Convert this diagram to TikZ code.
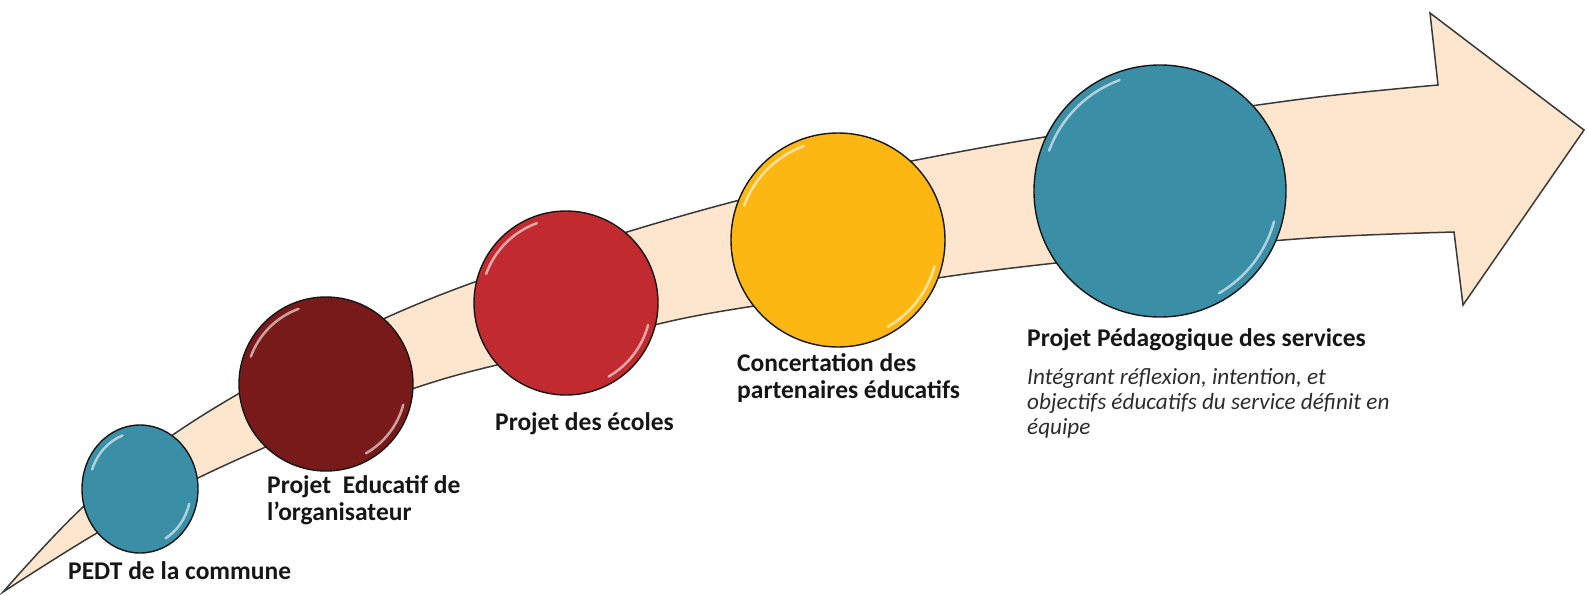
\documentclass[tikz,border=0pt]{standalone}
\usepackage{fontspec}
\setmainfont{Carlito}
\usetikzlibrary{shapes.geometric, calc}
\definecolor{tealcol}{RGB}{58,142,166}
\definecolor{winecol}{RGB}{120,26,26}
\definecolor{redcol}{RGB}{193,42,46}
\definecolor{ambercol}{RGB}{253,183,18}
\definecolor{peachcol}{RGB}{253,230,205}
\definecolor{inkcol}{RGB}{22,22,22}

\begin{document}
\begin{tikzpicture}[x=1pt, y=-1pt,
  bead/.style={circle, draw=inkcol, line width=1.4pt, inner sep=0pt},
  gloss/.style={white, opacity=.6, line width=2.5pt, line cap=round},
  title/.style={inner sep=0pt, anchor=base west, align=left, text=inkcol, font=\fontsize{25.5}{26.5}\selectfont\bfseries},
  note/.style={inner sep=0pt, anchor=base west, align=left, text=inkcol!90, font=\fontsize{23.2}{25}\selectfont\itshape}]
\useasboundingbox (0,0) rectangle (1587,595);

% curved arrow
\filldraw[fill=peachcol, draw=inkcol!85, line width=1.5pt, line join=miter]
  plot[smooth, tension=.6] coordinates {(3,592) (83,507) (177,432) (300,360) (440,295) (627,232) (800,185) (980,148) (1150,121) (1310,98) (1438,85)}
  -- (1430,13) -- (1584,130) -- (1463,305) -- (1454,232)
  -- plot[smooth, tension=.6] coordinates {(1454,232) (1310,238) (1150,253) (980,272) (850,292) (690,317) (560,350) (440,380) (330,420) (200,477) (97,533) (3,592)}
  -- cycle;

% beads
\node[bead, ellipse, minimum width=116pt, minimum height=128pt, fill=tealcol] (pedt) at (140,489) {};
\node[bead, minimum size=174pt, fill=winecol] (educ) at (326,384) {};
\node[bead, minimum size=184pt, fill=redcol] (ecoles) at (566,303) {};
\node[bead, minimum size=214pt, fill=ambercol] (concert) at (838,240) {};
\node[bead, minimum size=252pt, fill=tealcol] (pedago) at (1160,191) {};

\foreach \n/\a/\b in {pedt/51/57, educ/80/80, ecoles/85/85, concert/100/100, pedago/118/118} {
  \draw[gloss] ($(\n.center)+({\a*cos(200)},{\b*sin(200)})$) arc[start angle=200, end angle=250, x radius=\a, y radius=\b];
  \draw[gloss] ($(\n.center)+({\a*cos(15)},{\b*sin(15)})$) arc[start angle=15, end angle=60, x radius=\a, y radius=\b];
}

% labels (base = last line)
\node[title] (pedtlbl) at (68,579) {PEDT de la commune};
\node[title] (educlbl) at (267,520) {Projet\ \ Educatif de\\l’organisateur};
\node[title] (ecoleslbl) at (495,430) {Projet des écoles};
\node[title] (concertlbl) at (737,398) {Concertation des\\partenaires éducatifs};
\node[title] (pedagolbl) at (1027,346) {Projet Pédagogique des services};
\node[note] (pedagonote) at (1027,434) {Intégrant réflexion, intention, et\\objectifs éducatifs du service définit en\\équipe};
\end{tikzpicture}
\end{document}
